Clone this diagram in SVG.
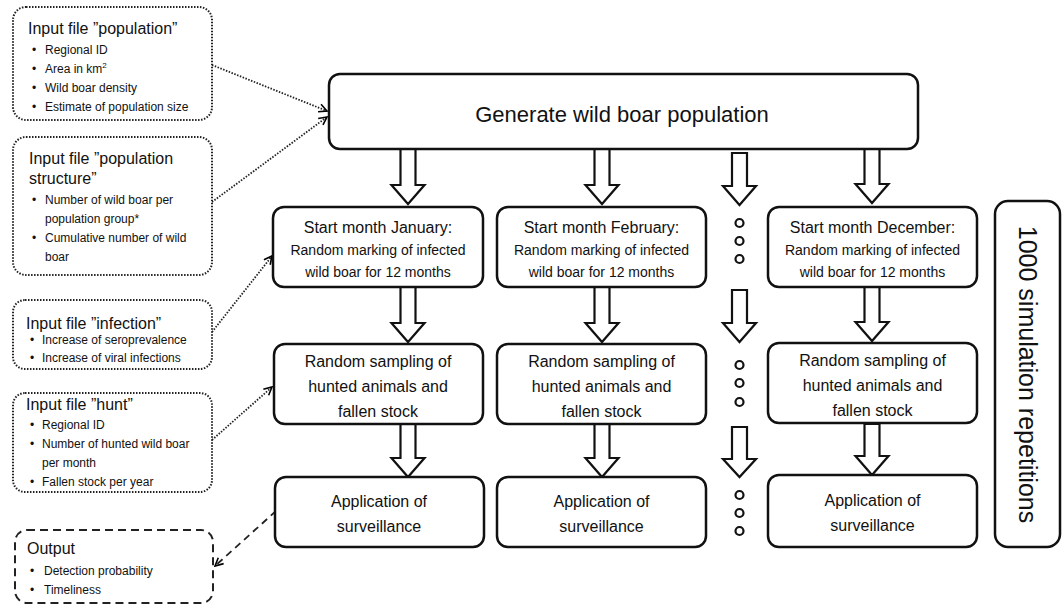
<svg xmlns="http://www.w3.org/2000/svg" width="1062" height="606" viewBox="0 0 1062 606">
<defs>
<marker id="open" viewBox="0 0 10 10" refX="9" refY="5" markerWidth="10" markerHeight="10" markerUnits="userSpaceOnUse" orient="auto">
<path d="M1,1 L9,5 L1,9" fill="none" stroke="#000" stroke-width="1.6"/>
</marker>
</defs>
<style>
text{font-family:"Liberation Sans",Arial,sans-serif;fill:#111}
.in{fill:#fff;stroke:#222;stroke-width:2;stroke-dasharray:1.5 1.5}
.out{fill:#fff;stroke:#222;stroke-width:2;stroke-dasharray:8 5}
.box{fill:#fff;stroke:#111;stroke-width:2.5}
.ttl{font-size:16px}
.bul{font-size:12px}
.mid{text-anchor:middle}
.h16{font-size:16px}
.h14{font-size:14px}
.blk{fill:#fff;stroke:#111;stroke-width:2.2;stroke-linejoin:miter}
.dot{fill:#fff;stroke:#111;stroke-width:2.2}
.dotted{fill:none;stroke:#222;stroke-width:1.8;stroke-dasharray:1.5 1.5}
.dashed{fill:none;stroke:#222;stroke-width:1.8;stroke-dasharray:7 5}
</style>
<rect width="1062" height="606" fill="#fff"/>

<g id="connectors">
<line class="dotted" x1="212" y1="65" x2="327" y2="111" marker-end="url(#open)"/>
<line class="dotted" x1="212" y1="202" x2="327" y2="117" marker-end="url(#open)"/>
<line class="dotted" x1="212" y1="332" x2="272" y2="256" marker-end="url(#open)"/>
<line class="dotted" x1="212" y1="440" x2="272" y2="387" marker-end="url(#open)"/>
<line class="dashed" x1="276" y1="511" x2="215" y2="566" marker-end="url(#open)"/>
</g>

<g id="input-population">
<rect class="in" x="13" y="7" width="199" height="113" rx="13"/>
<text class="ttl" x="28" y="34">Input file ”population”</text>
<text class="bul" y="54"><tspan x="32">•</tspan><tspan x="45">Regional ID</tspan></text>
<text class="bul" y="73"><tspan x="32">•</tspan><tspan x="45">Area in km</tspan><tspan font-size="8" dy="-5">2</tspan></text>
<text class="bul" y="92"><tspan x="32">•</tspan><tspan x="45">Wild boar density</tspan></text>
<text class="bul" y="111"><tspan x="32">•</tspan><tspan x="45">Estimate of population size</tspan></text>
</g>

<g id="input-structure">
<rect class="in" x="13" y="137" width="199" height="138" rx="13"/>
<text class="ttl" x="29" y="164">Input file ”population</text>
<text class="ttl" x="29" y="184">structure”</text>
<text class="bul" y="204"><tspan x="32">•</tspan><tspan x="45">Number of wild boar per</tspan></text>
<text class="bul" x="45" y="223">population group*</text>
<text class="bul" y="242"><tspan x="32">•</tspan><tspan x="45">Cumulative number of wild</tspan></text>
<text class="bul" x="45" y="261">boar</text>
</g>

<g id="input-infection">
<rect class="in" x="13" y="300" width="199" height="69" rx="12"/>
<text class="ttl" x="26" y="329">Input file ”infection”</text>
<text class="bul" y="344"><tspan x="30">•</tspan><tspan x="42">Increase of seroprevalence</tspan></text>
<text class="bul" y="362"><tspan x="30">•</tspan><tspan x="42">Increase of viral infections</tspan></text>
</g>

<g id="input-hunt">
<rect class="in" x="13" y="393" width="199" height="99" rx="12"/>
<text class="ttl" x="26" y="410">Input file ”hunt”</text>
<text class="bul" y="429"><tspan x="30">•</tspan><tspan x="42">Regional ID</tspan></text>
<text class="bul" y="448"><tspan x="30">•</tspan><tspan x="42">Number of hunted wild boar</tspan></text>
<text class="bul" x="42" y="467">per month</text>
<text class="bul" y="486"><tspan x="30">•</tspan><tspan x="42">Fallen stock per year</tspan></text>
</g>

<g id="output">
<rect class="out" x="15" y="530" width="198" height="73" rx="12"/>
<text class="ttl" x="27" y="554">Output</text>
<text class="bul" y="575"><tspan x="30">•</tspan><tspan x="44">Detection probability</tspan></text>
<text class="bul" y="594"><tspan x="30">•</tspan><tspan x="44">Timeliness</tspan></text>
</g>

<g id="block-arrows">
<polygon class="blk" points="400.5,149 415.5,149 415.5,185 424.5,185 408,204 391.5,185 400.5,185"/>
<polygon class="blk" points="400.5,287 415.5,287 415.5,323 424.5,323 408,342 391.5,323 400.5,323"/>
<polygon class="blk" points="400.5,424 415.5,424 415.5,458 424.5,458 408,477 391.5,458 400.5,458"/>
<polygon class="blk" points="594.5,149 609.5,149 609.5,185 618.5,185 602,204 585.5,185 594.5,185"/>
<polygon class="blk" points="594.5,287 609.5,287 609.5,323 618.5,323 602,342 585.5,323 594.5,323"/>
<polygon class="blk" points="594.5,424 609.5,424 609.5,458 618.5,458 602,477 585.5,458 594.5,458"/>
<polygon class="blk" points="732,153 747,153 747,186 756,186 739.5,205 723,186 732,186"/>
<polygon class="blk" points="732,290 747,290 747,323 756,323 739.5,342 723,323 732,323"/>
<polygon class="blk" points="732,427 747,427 747,459 756,459 739.5,477 723,459 732,459"/>
<polygon class="blk" points="864.5,149 879.5,149 879.5,184 888.5,184 872,203 855.5,184 864.5,184"/>
<polygon class="blk" points="864.5,287 879.5,287 879.5,322 888.5,322 872,341 855.5,322 864.5,322"/>
<polygon class="blk" points="864.5,424 879.5,424 879.5,456 888.5,456 872,475 855.5,456 864.5,456"/>
</g>

<g id="generate">
<rect class="box" x="329" y="74" width="589" height="75" rx="11"/>
<text class="mid" x="622" y="122" font-size="22">Generate wild boar population</text>
</g>

<g id="jan-start">
<rect class="box" x="273" y="207" width="210" height="80" rx="11"/>
<text class="mid h16" x="378" y="233">Start month January:</text>
<text class="mid h14" x="378" y="255">Random marking of infected</text>
<text class="mid h14" x="378" y="277">wild boar for 12 months</text>
</g>
<g id="feb-start">
<rect class="box" x="497" y="207" width="209" height="80" rx="11"/>
<text class="mid h16" x="601.5" y="233">Start month February:</text>
<text class="mid h14" x="601.5" y="255">Random marking of infected</text>
<text class="mid h14" x="601.5" y="277">wild boar for 12 months</text>
</g>
<g id="dec-start">
<rect class="box" x="768" y="207" width="209" height="80" rx="11"/>
<text class="mid h16" x="872.5" y="233">Start month December:</text>
<text class="mid h14" x="872.5" y="255">Random marking of infected</text>
<text class="mid h14" x="872.5" y="277">wild boar for 12 months</text>
</g>

<g id="jan-sampling">
<rect class="box" x="274" y="344" width="209" height="80" rx="11"/>
<text class="mid h16" x="378" y="367">Random sampling of</text>
<text class="mid h16" x="378" y="392">hunted animals and</text>
<text class="mid h16" x="378" y="417">fallen stock</text>
</g>
<g id="feb-sampling">
<rect class="box" x="497" y="344" width="209" height="80" rx="11"/>
<text class="mid h16" x="601.5" y="367">Random sampling of</text>
<text class="mid h16" x="601.5" y="392">hunted animals and</text>
<text class="mid h16" x="601.5" y="417">fallen stock</text>
</g>
<g id="dec-sampling">
<rect class="box" x="768" y="343" width="209" height="80" rx="11"/>
<text class="mid h16" x="872.5" y="366">Random sampling of</text>
<text class="mid h16" x="872.5" y="391">hunted animals and</text>
<text class="mid h16" x="872.5" y="416">fallen stock</text>
</g>

<g id="jan-surveillance">
<rect class="box" x="275" y="477" width="209" height="70" rx="11"/>
<text class="mid h16" x="379" y="507">Application of</text>
<text class="mid h16" x="379" y="532">surveillance</text>
</g>
<g id="feb-surveillance">
<rect class="box" x="497" y="477" width="209" height="70" rx="11"/>
<text class="mid h16" x="601.5" y="507">Application of</text>
<text class="mid h16" x="601.5" y="532">surveillance</text>
</g>
<g id="dec-surveillance">
<rect class="box" x="768" y="475" width="209" height="72" rx="11"/>
<text class="mid h16" x="872.5" y="506">Application of</text>
<text class="mid h16" x="872.5" y="531">surveillance</text>
</g>

<g id="ellipsis">
<circle class="dot" cx="739.5" cy="223" r="4"/>
<circle class="dot" cx="739.5" cy="241" r="4"/>
<circle class="dot" cx="739.5" cy="259" r="4"/>
<circle class="dot" cx="739.5" cy="365" r="4"/>
<circle class="dot" cx="739.5" cy="383" r="4"/>
<circle class="dot" cx="739.5" cy="402" r="4"/>
<circle class="dot" cx="739.5" cy="495" r="4"/>
<circle class="dot" cx="739.5" cy="513" r="4"/>
<circle class="dot" cx="739.5" cy="531" r="4"/>
</g>

<g id="repetitions">
<rect class="box" x="995" y="201" width="65" height="346" rx="13"/>
<text class="mid" transform="translate(1028,374.5) rotate(90)" y="9" font-size="25">1000 simulation repetitions</text>
</g>
</svg>
